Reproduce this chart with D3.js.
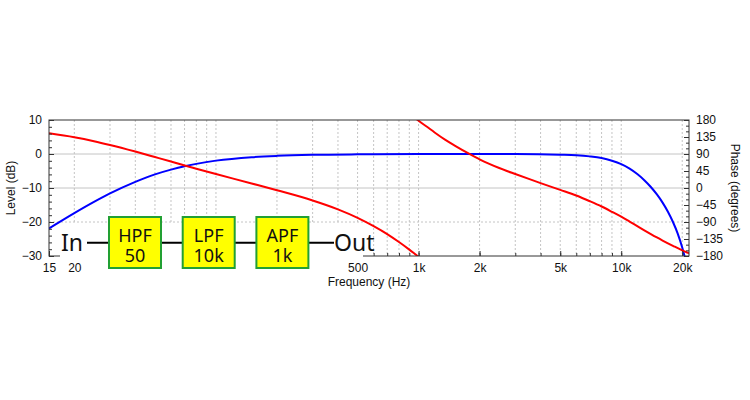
<!DOCTYPE html>
<html>
<head>
<meta charset="utf-8">
<script src="https://cdn.jsdelivr.net/npm/d3@7"></script>
<style>
  body { margin: 0; background: #fff; }
  svg { display: block; }
  text { font-family: "Liberation Sans", Arial, sans-serif; fill: #111; }
</style>
</head>
<body>
<svg></svg>
<script>
// magnitude response (dB)
const levelFreqs = [15, 20, 25, 30, 40, 50, 60, 70, 80, 100, 150, 200, 300, 500, 1000, 2000, 3000, 5000, 6000, 7000, 8000, 9000, 10000, 11000, 12000, 13000, 14000, 15000, 16000, 17000, 18000, 19000, 20000, 20500, 21000]
const levelDb = [-21.9, -17.4, -14.1, -11.6, -8.2, -6.0, -4.6, -3.6, -2.9, -1.95, -0.93, -0.55, -0.25, -0.1, -0.03, -0.02, -0.03, -0.2, -0.35, -0.7, -1.2, -2.0, -3.0, -4.3, -5.9, -7.7, -9.7, -11.9, -14.3, -17.0, -20.0, -23.4, -27.5, -29.9, -32.7]

// phase response (degrees, unwrapped)
const phaseFreqs = [15, 20, 25, 30, 40, 50, 60, 70, 80, 100, 150, 200, 300, 400, 500, 600, 700, 800, 900, 1000, 1100, 1200, 1350, 1500, 1800, 2000, 2500, 3000, 3500, 4000, 5000, 6000, 7000, 8000, 9000, 10000, 11000, 12000, 13000, 14000, 15000, 16000, 18000, 20000, 21000, 21600]
const phaseDeg = [145, 134.5, 124, 114, 96.5, 82, 70, 59.5, 51, 37, 12, -6, -33, -56.5, -79, -101, -122, -143, -163, -182, -198, -213, -232, -247, -271, -284, -307, -323, -336, -347, -365, -380, -395, -409, -423, -436, -449, -461, -472, -482, -491, -499, -513, -525, -530, -533]

const freqTicks = [15, 20, 500, 1000, 2000, 5000, 10000, 20000]
const levelTicks = [10, 0, -10, -20, -30]
const phaseTicks = [180, 135, 90, 45, 0, -45, -90, -135, -180]

const blocks = [['HPF', '50'], ['LPF', '10k'], ['APF', '1k']]

const svgWidth = 750
const svgHeight = 400
const plotL = 49, plotR = 689, plotT = 120, plotB = 256

const svg = d3.select('svg')
  .attr('width', svgWidth)
  .attr('height', svgHeight)

const x = d3.scaleLog().domain([15, 21600]).range([plotL, plotR])
const yL = d3.scaleLinear().domain([-30, 10]).range([plotB, plotT])
const yR = d3.scaleLinear().domain([-180, 180]).range([plotB, plotT])

// all 1..9 x 10^n positions inside the domain
const logGrid = []
for (let p = 1; p <= 4; p++) {
  for (let m = 1; m <= 9; m++) {
    const v = m * Math.pow(10, p)
    if (v >= 15 && v <= 21600) logGrid.push(v)
  }
}

svg.append('defs').append('clipPath').attr('id', 'plot')
  .append('rect')
  .attr('x', plotL).attr('y', plotT)
  .attr('width', plotR - plotL).attr('height', plotB - plotT)

// grid
svg.append('g')
  .selectAll('line')
  .data(logGrid)
  .enter()
  .append('line')
  .attr('x1', d => x(d)).attr('x2', d => x(d))
  .attr('y1', plotT).attr('y2', plotB)
  .attr('stroke', '#c4c4c4')
  .attr('stroke-dasharray', '2,2')

svg.append('g')
  .selectAll('line')
  .data([0, -10, -20])
  .enter()
  .append('line')
  .attr('x1', plotL).attr('x2', plotR)
  .attr('y1', d => yL(d)).attr('y2', d => yL(d))
  .attr('stroke', '#c4c4c4')
  .attr('stroke-dasharray', d => d === -20 ? '2,2' : null)

// curves
const plot = svg.append('g').attr('clip-path', 'url(#plot)')

const levelLine = d3.line()
  .x(d => x(d[0]))
  .y(d => yL(d[1]))
  .curve(d3.curveMonotoneX)

plot.append('path')
  .datum(levelFreqs.map((f, i) => [f, levelDb[i]]))
  .attr('d', levelLine)
  .attr('fill', 'none')
  .attr('stroke', '#0000ff')
  .attr('stroke-width', 2)

const phaseLine = d3.line()
  .x(d => x(d[0]))
  .y(d => yR(d[1]))
  .curve(d3.curveMonotoneX)

// phase wraps at -180, so draw it again one turn up
plot.selectAll('path.phase')
  .data([0, 360])
  .enter()
  .append('path')
  .attr('class', 'phase')
  .attr('d', off => phaseLine(phaseFreqs.map((f, i) => [f, phaseDeg[i] + off])))
  .attr('fill', 'none')
  .attr('stroke', '#ff0000')
  .attr('stroke-width', 2)

// frame
svg.append('rect')
  .attr('x', plotL).attr('y', plotT)
  .attr('width', plotR - plotL).attr('height', plotB - plotT)
  .attr('fill', 'none')
  .attr('stroke', '#333')

// axes (ticks point into the plot)
const styleAxis = g => {
  g.select('.domain').remove()
  g.selectAll('line').attr('stroke', '#333')
  g.selectAll('text').style('font-size', '12px').attr('fill', '#111')
}

svg.append('g')
  .attr('transform', `translate(${plotL},0)`)
  .call(d3.axisLeft(yL).tickValues(d3.range(-30, 11, 2)).tickSize(-3).tickFormat(''))
  .call(styleAxis)
svg.append('g')
  .attr('transform', `translate(${plotL},0)`)
  .call(d3.axisLeft(yL).tickValues(levelTicks).tickSize(-5).tickPadding(7))
  .call(styleAxis)

svg.append('g')
  .attr('transform', `translate(${plotR},0)`)
  .call(d3.axisRight(yR).tickValues(d3.range(-180, 181, 15)).tickSize(-3).tickFormat(''))
  .call(styleAxis)
svg.append('g')
  .attr('transform', `translate(${plotR},0)`)
  .call(d3.axisRight(yR).tickValues(phaseTicks).tickSize(-5).tickPadding(7))
  .call(styleAxis)

const fmtFreq = d => d >= 1000 ? (d / 1000) + 'k' : d
svg.append('g')
  .attr('transform', `translate(0,${plotB})`)
  .call(d3.axisBottom(x).tickValues(logGrid).tickSize(-3).tickFormat(''))
  .call(styleAxis)
svg.append('g')
  .attr('transform', `translate(0,${plotB})`)
  .call(d3.axisBottom(x).tickValues(freqTicks).tickSize(-5).tickPadding(7).tickFormat(fmtFreq))
  .call(styleAxis)

// axis titles
svg.append('text')
  .attr('transform', `translate(15,${(plotT + plotB) / 2}) rotate(-90)`)
  .attr('text-anchor', 'middle')
  .style('font-size', '12px')
  .text('Level (dB)')

svg.append('text')
  .attr('transform', `translate(731,${(plotT + plotB) / 2}) rotate(90)`)
  .attr('text-anchor', 'middle')
  .style('font-size', '12px')
  .text('Phase (degrees)')

svg.append('text')
  .attr('x', 369).attr('y', 286)
  .attr('text-anchor', 'middle')
  .style('font-size', '12px')
  .text('Frequency (Hz)')

// signal chain diagram, on a white patch over the plot
const diag = svg.append('g')
diag.append('rect')
  .attr('x', 60).attr('y', 223)
  .attr('width', 303).attr('height', 36)
  .attr('fill', '#fff')

const boxX = (d, i) => 109 + i * 73.7
const boxW = 52, boxY = 217, boxH = 51, midY = 242.7

diag.append('line')
  .attr('x1', 87).attr('x2', 334)
  .attr('y1', midY).attr('y2', midY)
  .attr('stroke', '#000')
  .attr('stroke-width', 2)

const box = diag.selectAll('g.block')
  .data(blocks)
  .enter()
  .append('g')
  .attr('class', 'block')

box.append('rect')
  .attr('x', boxX).attr('y', boxY)
  .attr('width', boxW).attr('height', boxH)
  .attr('fill', '#ffff00')
  .attr('stroke', '#22a033')
  .attr('stroke-width', 2)

// both lines of a box label in one text element
box.append('text')
  .attr('text-anchor', 'middle')
  .style('font-family', '"Noto Sans", sans-serif')
  .style('font-size', '18px')
  .attr('fill', '#000')
  .selectAll('tspan')
  .data((d, i) => d.map((t, j) => ({ t, cx: boxX(d, i) + boxW / 2, y: 241.5 + j * 20 })))
  .enter()
  .append('tspan')
  .attr('x', d => d.cx).attr('y', d => d.y)
  .text(d => d.t)

diag.selectAll('text.io')
  .data([['In', 61], ['Out', 334]])
  .enter()
  .append('text')
  .attr('class', 'io')
  .attr('x', d => d[1]).attr('y', 250.5)
  .style('font-family', '"Noto Sans", sans-serif')
  .style('font-size', '23px')
  .attr('fill', '#000')
  .text(d => d[0])
</script>
</body>
</html>
